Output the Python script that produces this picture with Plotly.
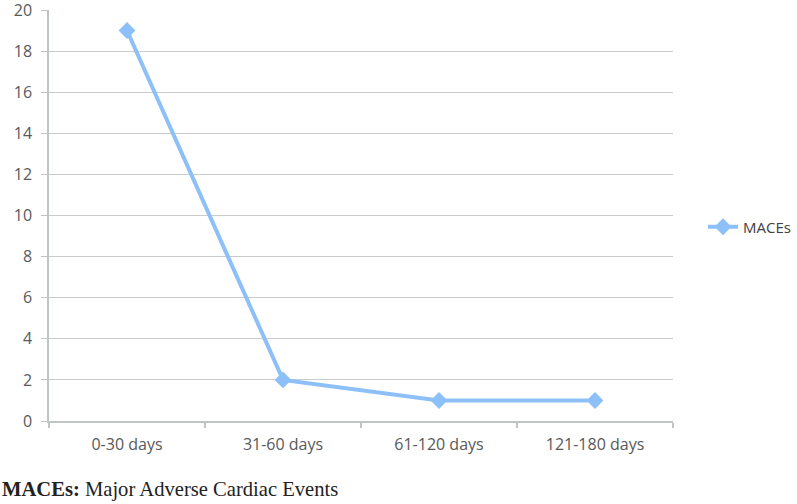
import plotly.graph_objects as go

categories = ["0-30 days", "31-60 days", "61-120 days", "121-180 days"]
maces = [19, 2, 1, 1]
y_ticks = [0, 2, 4, 6, 8, 10, 12, 14, 16, 18, 20]

W, H = 797, 504
L, R, T, B = 49, 124, 10, 83

fig = go.Figure()
fig.add_trace(go.Scatter(
    x=categories, y=maces, name="MACEs", mode="lines+markers",
    line=dict(color="#8DC0F8", width=4),
    marker=dict(symbol="diamond", size=13, color="#8DC0F8"),
))

axis_col = "#BFC5C5"
fig.update_layout(
    width=W, height=H,
    margin=dict(l=L, r=R, t=T, b=B, pad=0, autoexpand=False),
    plot_bgcolor="white", paper_bgcolor="white",
    font=dict(family="Open Sans, Liberation Sans, sans-serif", size=15, color="#595959"),
    showlegend=True,
    legend=dict(x=(796 - L) / (W - L - R), xanchor="right",
                y=(H - B - 227) / (H - T - B), yanchor="middle",
                font=dict(size=15, color="#404040"), bgcolor="rgba(0,0,0,0)"),
    xaxis=dict(type="category", range=[-0.5, 3.5], tickson="boundaries",
               showgrid=False, showline=True, linecolor=axis_col, linewidth=1.5,
               ticks="outside", ticklen=5, tickcolor=axis_col, tickwidth=1.5,
               ticklabelstandoff=8, automargin=False,
               tickfont=dict(size=16, color="#595959")),
    yaxis=dict(range=[0, 20], tickvals=y_ticks, showgrid=True, gridcolor="#C8CCCC",
               gridwidth=1.2, showline=True, linecolor=axis_col, linewidth=1.5,
               ticks="outside", ticklen=6, tickcolor=axis_col, tickwidth=1.2,
               ticklabelstandoff=6, ticklabeloverflow="allow", automargin=False,
               zeroline=False, tickfont=dict(size=16, color="#595959")),
)

fig.add_annotation(
    xref="paper", yref="paper", x=-L / (W - L - R), y=-(489 - (H - B)) / (H - T - B),
    xanchor="left", yanchor="middle", showarrow=False,
    text="<b>MACEs:</b> Major Adverse Cardiac Events",
    font=dict(family="Liberation Serif, Times New Roman, serif", size=20.6, color="#222222"),
)

fig.write_html("out.html", config={"displayModeBar": False},
               post_script="document.body.style.margin='0';")
